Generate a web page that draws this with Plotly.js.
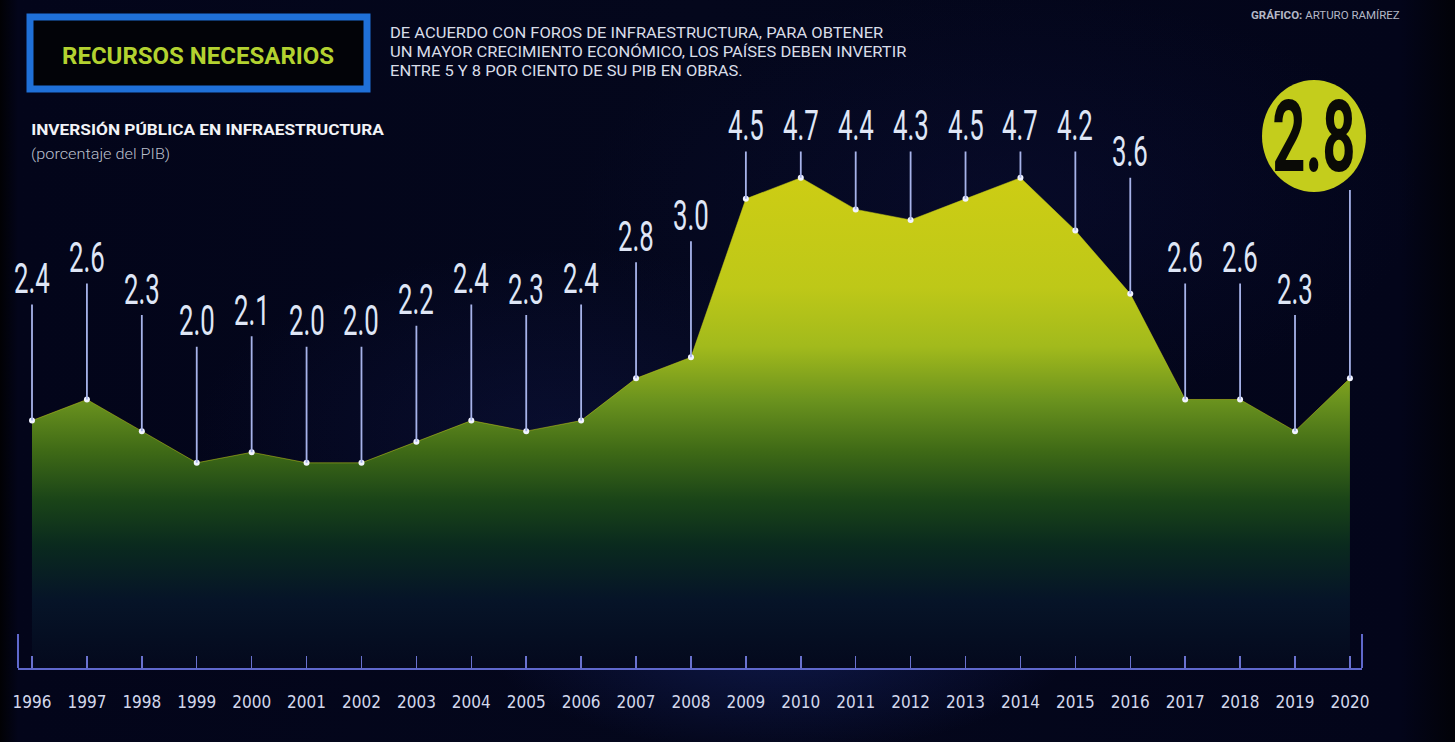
<!DOCTYPE html>
<html>
<head>
<meta charset="utf-8">
<script src="https://cdn.plot.ly/plotly-3.0.1.min.js"></script>
<style>
  html, body { margin:0; padding:0; }
  body {
    width:1455px; height:742px; overflow:hidden;
    background:
      radial-gradient(ellipse 420px 160px at 780px 640px, rgba(30,50,140,0.40), rgba(0,0,0,0) 70%),
      radial-gradient(ellipse 520px 260px at 560px 430px, rgba(20,30,90,0.30), rgba(0,0,0,0) 70%),
      radial-gradient(ellipse 600px 300px at 1000px 200px, rgba(15,20,70,0.30), rgba(0,0,0,0) 70%),
      linear-gradient(90deg, #010104 0px, #03051a 18px, #04071c 700px, #03051a 1400px, #020208 1455px);
  }
  #chart { width:1455px; height:742px; }
</style>
</head>
<body>
<div id="chart"></div>
<script>
// ---- data ----
const years = [1996,1997,1998,1999,2000,2001,2002,2003,2004,2005,2006,2007,2008,
               2009,2010,2011,2012,2013,2014,2015,2016,2017,2018,2019,2020];
const values = [2.4,2.6,2.3,2.0,2.1,2.0,2.0,2.2,2.4,2.3,2.4,2.8,3.0,
                4.5,4.7,4.4,4.3,4.5,4.7,4.2,3.6,2.6,2.6,2.3,2.8];
const tickLabels = years.map(String);

const titleText = "RECURSOS NECESARIOS";
const introText = "DE ACUERDO CON FOROS DE INFRAESTRUCTURA, PARA OBTENER<br>UN MAYOR CRECIMIENTO ECONÓMICO, LOS PAÍSES DEBEN INVERTIR<br>ENTRE 5 Y 8 POR CIENTO DE SU PIB EN OBRAS.";
const creditText = "<b>GRÁFICO:</b> ARTURO RAMÍREZ";
const subTitle = "<b>INVERSIÓN PÚBLICA EN INFRAESTRUCTURA</b>";
const subUnit = "(porcentaje del PIB)";

// ---- layout geometry ----
const L = 18, R = 93, T = 100, B = 74, FW = 1455, FH = 742;
const W = FW - L - R, H = FH - T - B;
const yMin = 0.057, yMax = 5.436;
const xMin = 1995.745, xMax = 2020.22;
const fx = p => (p - L) / W;
const fy = p => (T + H - p) / H;
const yFromPx = p => yMin + (T + H - p) / H * (yMax - yMin);

const condensed = "'DejaVu Sans Condensed', sans-serif";
const sans = "Roboto, 'Open Sans', sans-serif";

const area = {
  x: years, y: values, type: 'scatter', mode: 'lines',
  line: {width: 0.5, color: '#c8cc18'},
  fill: 'tozeroy',
  fillgradient: {
    type: 'vertical', start: 0, stop: 4.7,
    colorscale: [
      [0.00, '#04081c'],
      [0.15, '#061428'],
      [0.26, '#0a2a1e'],
      [0.35, '#1a4418'],
      [0.45, '#3f6a16'],
      [0.55, '#6a921e'],
      [0.66, '#a2ba1c'],
      [0.78, '#bec818'],
      [1.00, '#cdcd14']
    ]
  },
  hoverinfo: 'x+y', showlegend: false
};

const dots = {
  x: years, y: values, type: 'scatter', mode: 'markers',
  marker: {size: 6, color: '#f2f4ff'},
  hoverinfo: 'skip', showlegend: false, cliponaxis: false
};

const annotations = [];
const n = years.length;
for (let i = 0; i < n - 1; i++) {
  annotations.push({
    x: years[i], y: values[i], xref: 'x', yref: 'y',
    ax: years[i], ay: Math.min(values[i] + 1.35, 5.2), axref: 'x', ayref: 'y',
    text: values[i].toFixed(1), showarrow: true, arrowhead: 0,
    arrowwidth: 1.8, arrowcolor: '#a7b3ea', standoff: 0,
    font: {family: sans, size: 43, weight: 400, color: '#dfe6f6'}
  });
}
const idxTitle = annotations.length;
// header texts
annotations.push(
  {xref:'paper', yref:'paper', x: fx(198), y: fy(56), text: titleText, showarrow:false,
   xanchor:'center', yanchor:'middle', font:{family: sans, size: 24, color:'#b3d230', weight: 700}},
  {xref:'paper', yref:'paper', x: fx(388), y: fy(23), text: introText, showarrow:false,
   xanchor:'left', yanchor:'top', align:'left', font:{family: sans, size: 14.5, color:'#d9dde8'}},
  {xref:'paper', yref:'paper', x: fx(1402), y: fy(15), text: creditText, showarrow:false,
   xanchor:'right', yanchor:'middle', font:{family: sans, size: 11.5, color:'#b4b8c6'}},
  {xref:'paper', yref:'paper', x: fx(29), y: fy(130), text: subTitle, showarrow:false,
   xanchor:'left', yanchor:'middle', font:{family: sans, size: 14.5, color:'#f2f3f7'}},
  {xref:'paper', yref:'paper', x: fx(29), y: fy(154), text: subUnit, showarrow:false,
   xanchor:'left', yanchor:'middle', font:{family: sans, size: 15.5, weight: 300, color:'#b9bfca'}},
  {xref:'paper', yref:'paper', x: fx(1314), y: fy(136), text: '<b>' + values[n-1].toFixed(1) + '</b>', showarrow:false,
   xanchor:'center', yanchor:'middle', font:{family: sans, size: 100, weight: 900, color:'#0a0a06'}}
);

const shapes = [
  // title box
  {type:'rect', xref:'paper', yref:'paper', x0: fx(30), x1: fx(367), y0: fy(89), y1: fy(17),
   line:{color:'#1f70d8', width:7}, fillcolor:'#020308', layer:'below'},
  // big circle
  {type:'circle', xref:'paper', yref:'paper', x0: fx(1262), x1: fx(1366), y0: fy(192), y1: fy(80),
   line:{width:0}, fillcolor:'#c4cd1c'},
  // leader line for last year
  {type:'line', xref:'x', yref:'y', x0: years[n-1], x1: years[n-1], y0: values[n-1], y1: yFromPx(190),
   line:{color:'#a7b3ea', width:1.8}},
  // tall end ticks
  {type:'line', xref:'paper', yref:'paper', x0: 0, x1: 0, y0: 0, y1: 34 / H, line:{color:'#5f68cc', width:2}},
  {type:'line', xref:'paper', yref:'paper', x0: 1, x1: 1, y0: 0, y1: 34 / H, line:{color:'#5f68cc', width:2}}
];

const layout = {
  width: FW, height: FH,
  margin: {l: L, r: R, t: T, b: B, pad: 0},
  paper_bgcolor: 'rgba(0,0,0,0)', plot_bgcolor: 'rgba(0,0,0,0)',
  showlegend: false,
  xaxis: {
    range: [xMin, xMax], tickvals: years, ticktext: tickLabels,
    showgrid: false, zeroline: false,
    showline: true, linecolor: '#5f68cc', linewidth: 2,
    ticks: 'inside', ticklen: 12, tickwidth: 1.5, tickcolor: '#6a72d0',
    ticklabelstandoff: 18,
    tickfont: {family: condensed, size: 17, color: '#d3d8ec'},
    fixedrange: true
  },
  yaxis: {range: [yMin, yMax], visible: false, showgrid: false, zeroline: false, fixedrange: true},
  annotations: annotations,
  shapes: shapes
};

function squeeze(i, sx, origin) {
  const g = document.querySelector('#chart g.annotation[data-index="' + i + '"] text.annotation-text');
  if (!g) return;
  g.style.transformBox = 'fill-box';
  g.style.transformOrigin = origin;
  g.style.transform = 'scaleX(' + sx + ')';
}

Plotly.newPlot('chart', [area, dots], layout, {displayModeBar: false, staticPlot: true}).then(() => {
  for (let i = 0; i < n - 1; i++) squeeze(i, 0.6, 'center');
  squeeze(idxTitle + 1, 1.14, 'left center');
  squeeze(idxTitle + 3, 1.19, 'left center');
  squeeze(idxTitle + 4, 1.05, 'left center');
  squeeze(idxTitle + 5, 0.58, 'center');
});
</script>
</body>
</html>
